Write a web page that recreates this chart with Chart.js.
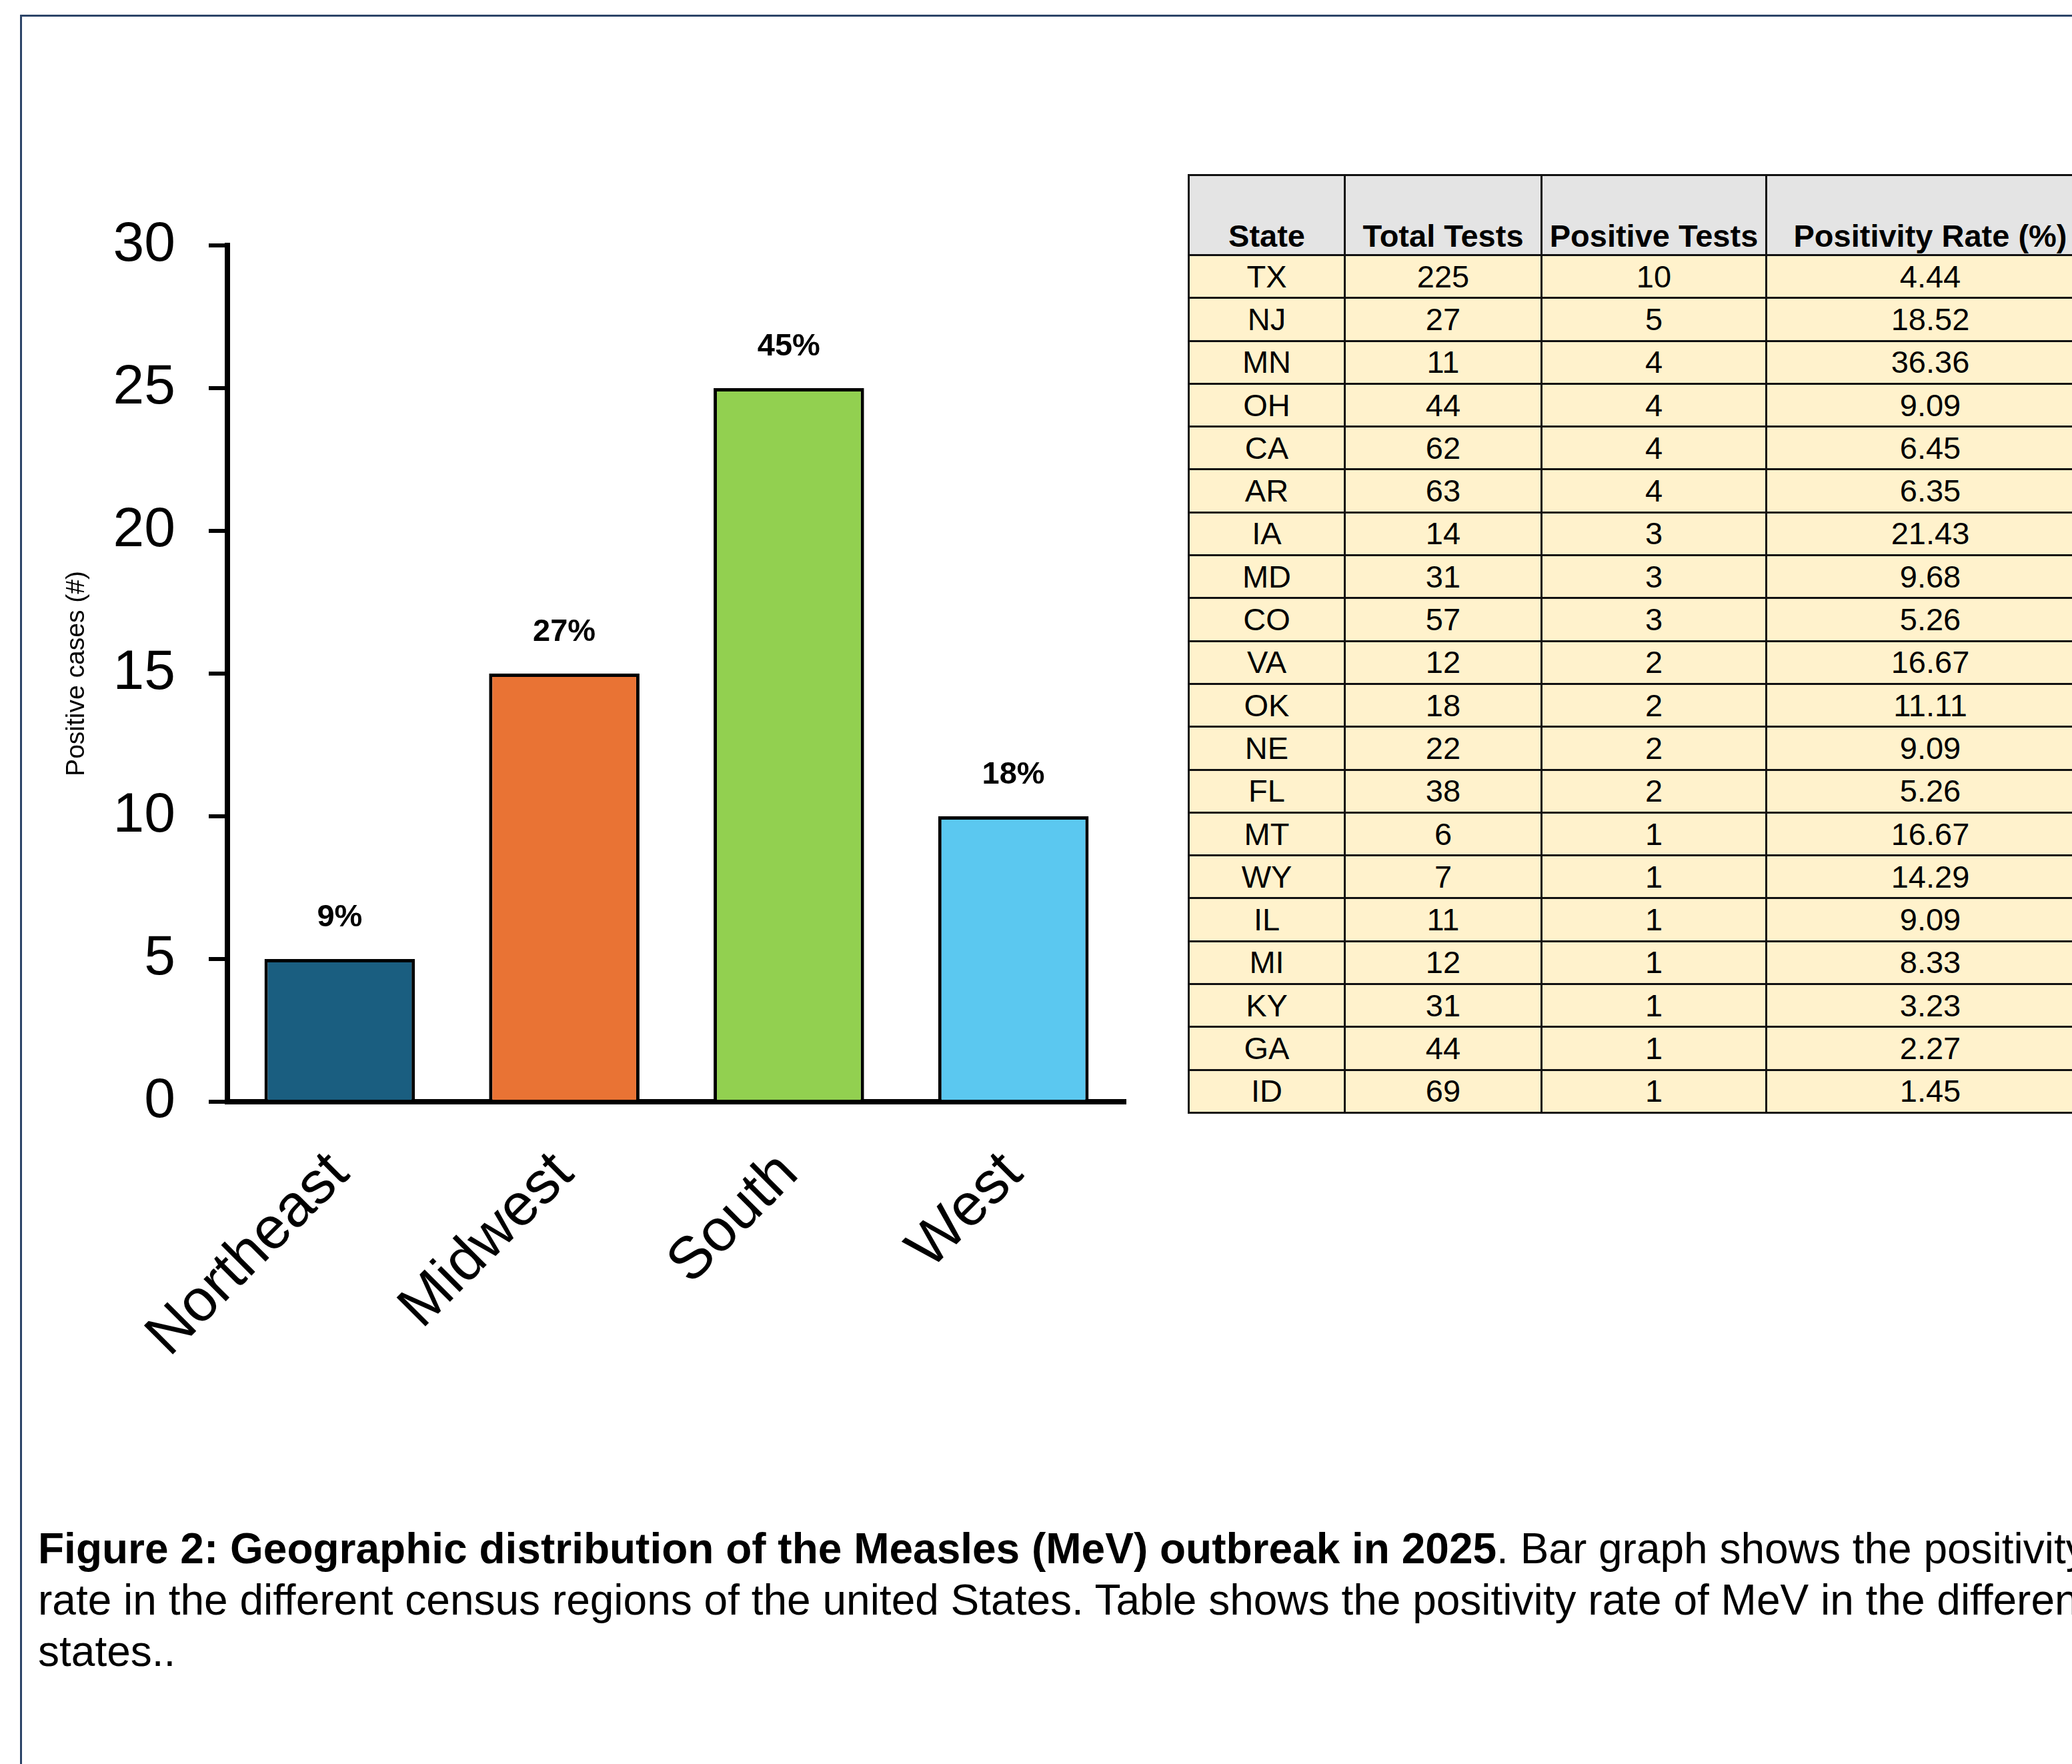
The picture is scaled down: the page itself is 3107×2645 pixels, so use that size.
<!DOCTYPE html>
<html>
<head>
<meta charset="utf-8">
<script src="https://cdn.jsdelivr.net/npm/chart.js@4.4.1/dist/chart.umd.min.js"></script>
<style>
  html, body { margin:0; padding:0; background:#fff; overflow:hidden; width:3107px; height:2645px; position:relative; font-family:"Liberation Sans", Arial, sans-serif; }
  #frame { position:absolute; left:30px; top:22px; width:4000px; height:4000px; border:3px solid #2c4468; }
  #chartBox { position:absolute; left:0; top:0; width:1720px; height:2100px; }
  #stateTable { position:absolute; left:1781px; top:261px; border-collapse:collapse; font-size:47px; color:#000; }
  #stateTable th, #stateTable td { border:3px solid #111; text-align:center; padding:0; box-sizing:border-box; }
  #stateTable th { background:#e4e4e4; height:120px; vertical-align:bottom; font-weight:bold; padding-bottom:0; line-height:54px; white-space:nowrap; }
  #stateTable td { background:#fff2cc; height:64.3px; line-height:56px; }
  #caption { position:absolute; left:57px; top:2284px; font-size:64px; line-height:77px; white-space:nowrap; color:#000; }
</style>
</head>
<body>
<div id="frame"></div>
<div id="chartBox"><canvas id="regionChart"></canvas></div>
<table id="stateTable"></table>
<div id="caption"></div>
<script>
// bar chart data
const regions = ['Northeast', 'Midwest', 'South', 'West'];
const positiveCases = [5, 15, 25, 10];
const regionShare = ['9%', '27%', '45%', '18%'];
const barColors = ['#1a5e80', '#e97334', '#92d050', '#5bc8f0'];

// table data
const tableHeaders = ['State', 'Total Tests', 'Positive Tests', 'Positivity Rate (%)'];
const states = ['TX','NJ','MN','OH','CA','AR','IA','MD','CO','VA','OK','NE','FL','MT','WY','IL','MI','KY','GA','ID'];
const totalTests = [225, 27, 11, 44, 62, 63, 14, 31, 57, 12, 18, 22, 38, 6, 7, 11, 12, 31, 44, 69];
const positiveTests = [10, 5, 4, 4, 4, 4, 3, 3, 3, 2, 2, 2, 2, 1, 1, 1, 1, 1, 1, 1];
const positivityRate = ['4.44','18.52','36.36','9.09','6.45','6.35','21.43','9.68','5.26','16.67','11.11','9.09','5.26','16.67','14.29','9.09','8.33','3.23','2.27','1.45'];
const colWidths = [234, 295, 337, 492];

const captionBold = 'Figure 2: Geographic distribution of the Measles (MeV) outbreak in 2025';
const captionLines = ['. Bar graph shows the positivity', 'rate in the different census regions of the united States. Table shows the positivity rate of MeV in the different', 'states..'];

// build table
const tbl = document.getElementById('stateTable');
tbl.style.tableLayout = 'fixed';
tbl.style.width = colWidths.reduce((a,b)=>a+b,0) + 'px';
let html = '<colgroup>' + colWidths.map(w=>`<col style="width:${w}px">`).join('') + '</colgroup>';
html += '<tr>' + tableHeaders.map(h=>`<th>${h}</th>`).join('') + '</tr>';
states.forEach((s,i)=>{
  html += `<tr><td>${s}</td><td>${totalTests[i]}</td><td>${positiveTests[i]}</td><td>${positivityRate[i]}</td></tr>`;
});
tbl.innerHTML = html;

document.getElementById('caption').innerHTML = `<b>${captionBold}</b>${captionLines[0]}<br>${captionLines[1]}<br>${captionLines[2]}`;

// percentage labels above bars
const shareLabels = {
  id:'shareLabels',
  afterDatasetsDraw(chart){
    const ctx = chart.ctx;
    const meta = chart.getDatasetMeta(0);
    ctx.save();
    ctx.font = 'bold 47px "Liberation Sans", Arial, sans-serif';
    ctx.fillStyle = '#000';
    ctx.textAlign = 'center';
    ctx.textBaseline = 'middle';
    meta.data.forEach((bar,i)=>{ ctx.fillText(regionShare[i], bar.x, bar.y - 62); });
    ctx.restore();
  }
};

const ctx = document.getElementById('regionChart').getContext('2d');
new Chart(ctx, {
  type:'bar',
  data:{ labels:regions, datasets:[{ data:positiveCases, backgroundColor:barColors, borderColor:'#000', borderWidth:5, borderSkipped:'bottom', categoryPercentage:1, barPercentage:0.67 }] },
  options:{
    responsive:true, maintainAspectRatio:false, animation:false,
    layout:{ padding:{ left:0, top:368, right:32, bottom:0 } },
    plugins:{ legend:{display:false}, tooltip:{enabled:false} },
    scales:{
      x:{
        grid:{ display:false },
        border:{ display:true, color:'#000', width:8 },
        ticks:{ color:'#000', font:{ family:'"Liberation Sans", Arial, sans-serif', size:89 }, minRotation:45, maxRotation:45, autoSkip:false, padding:48 },
        afterFit: s => { s.height = 448; }
      },
      y:{
        min:0, max:30,
        grid:{ display:true, drawOnChartArea:false, drawTicks:true, tickLength:28, color:'#000', lineWidth:6 },
        border:{ display:true, color:'#000', width:8 },
        ticks:{ stepSize:5, color:'#000', font:{ family:'"Liberation Sans", Arial, sans-serif', size:84 }, padding:50 },
        title:{ display:true, text:'Positive cases (#)', color:'#000', font:{ family:'"Liberation Sans", Arial, sans-serif', size:39 }, padding:{ top:92, bottom:0 } },
        afterFit: s => { s.width = 341; }
      }
    }
  },
  plugins:[shareLabels]
});
</script>
</body>
</html>
